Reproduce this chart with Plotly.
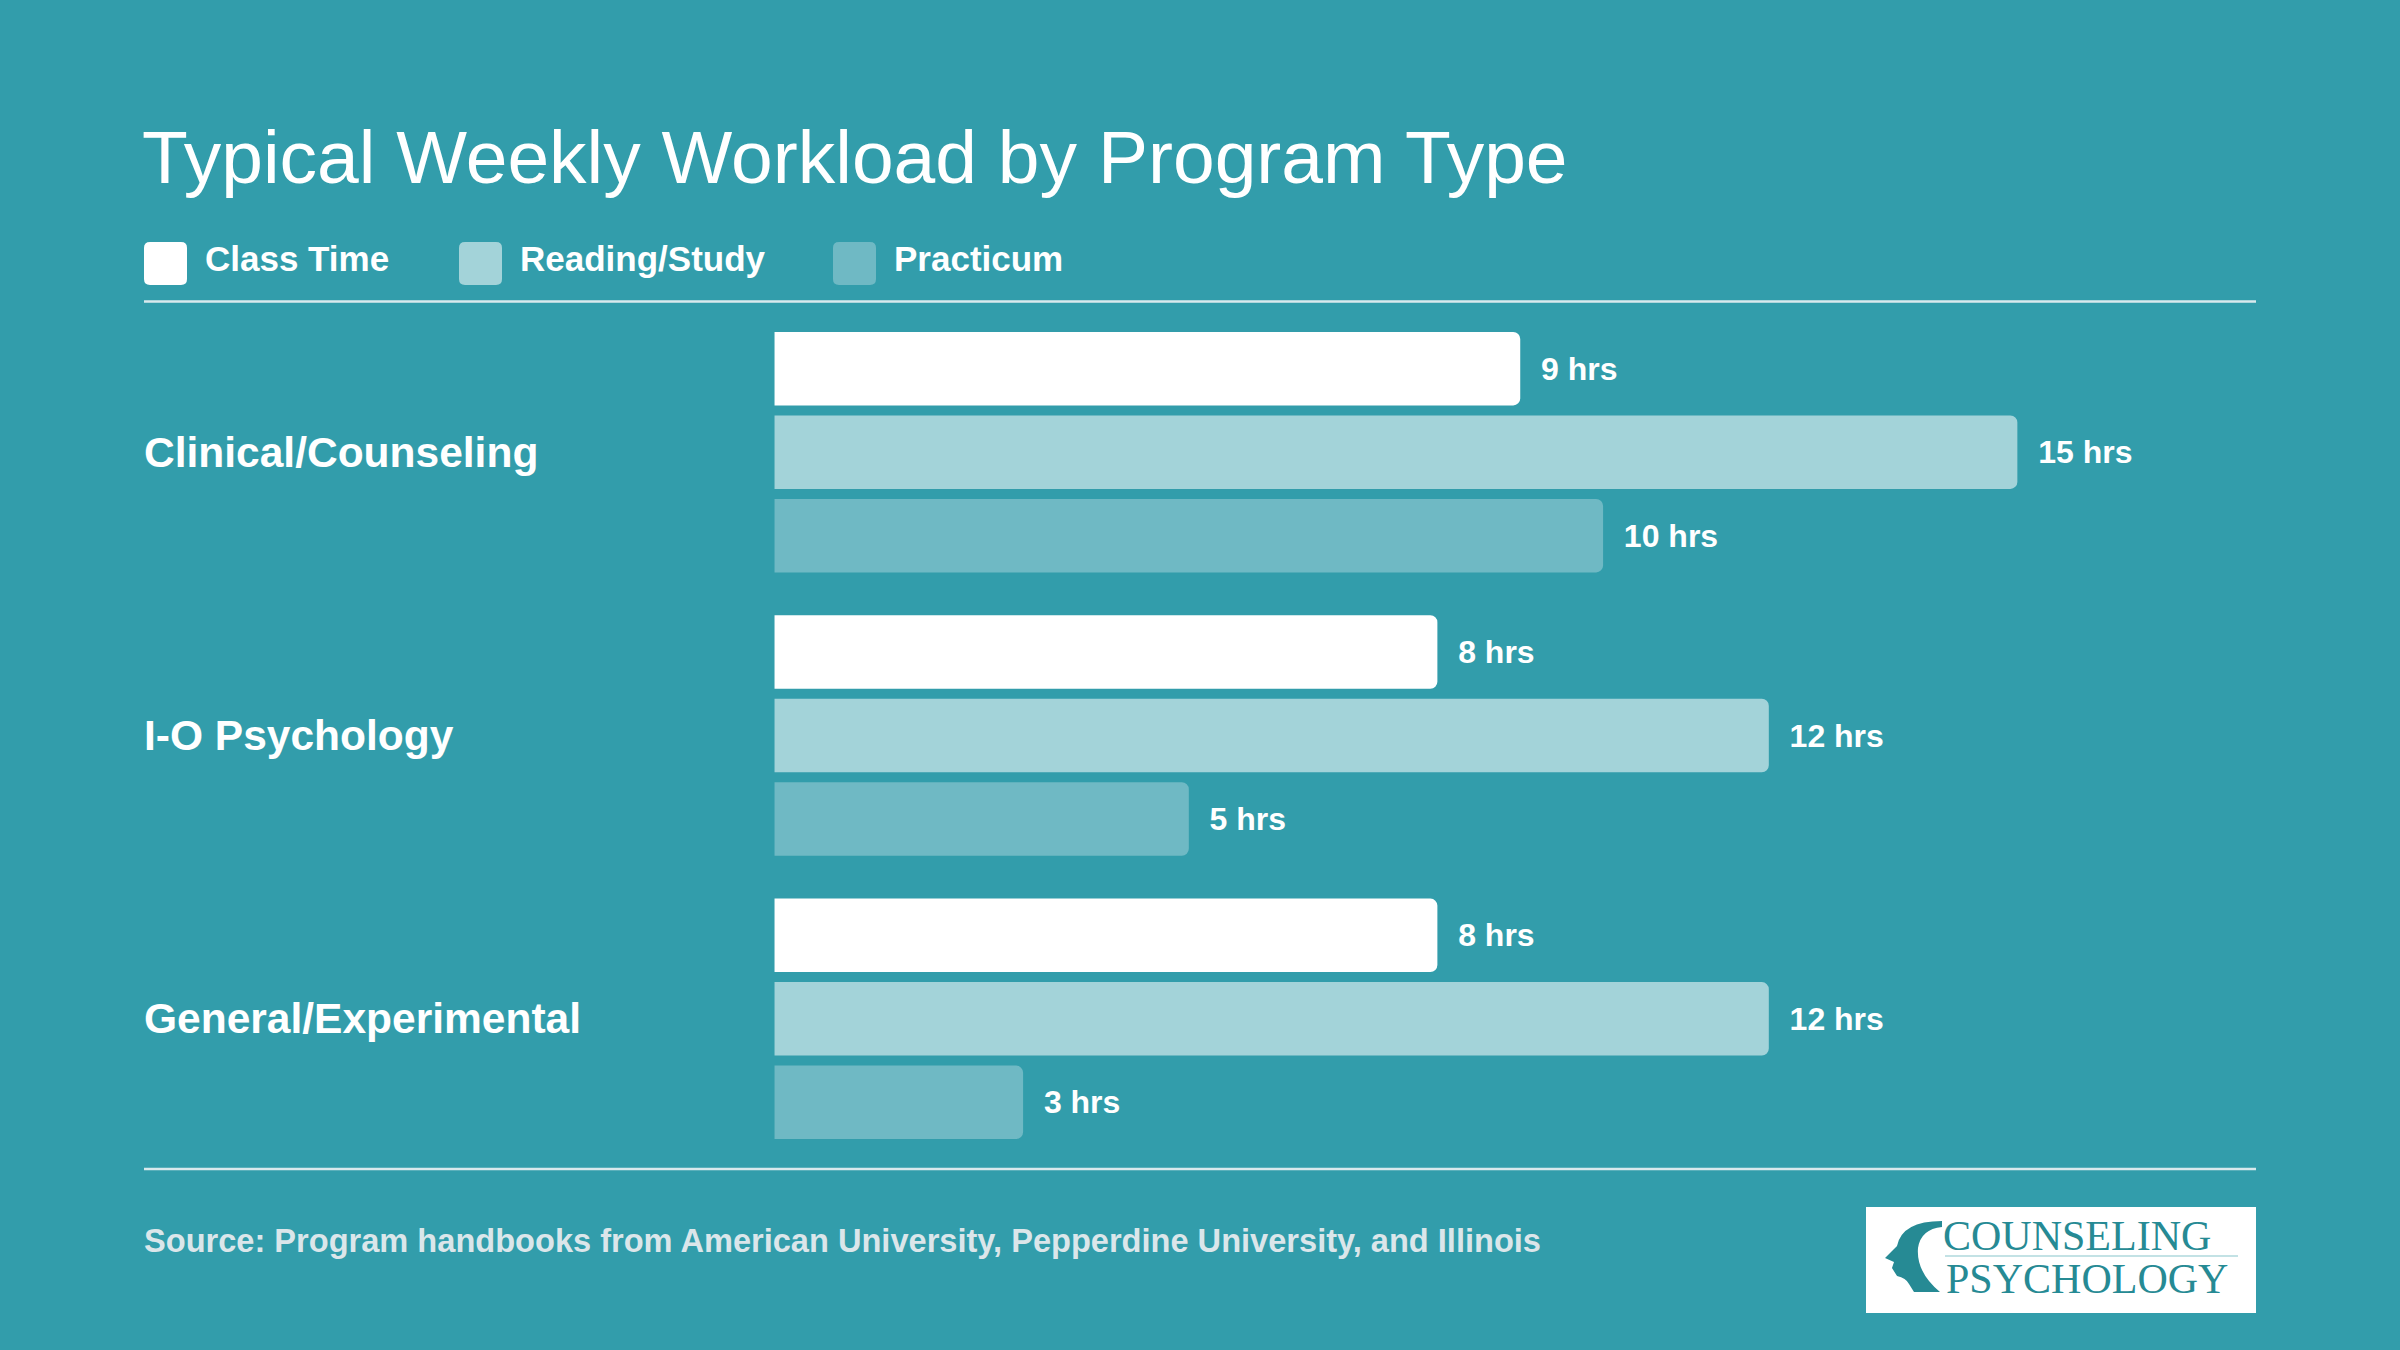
import plotly.graph_objects as go

# ---------------- data ----------------
programs = ["Clinical/Counseling", "I-O Psychology", "General/Experimental"]
series_names = ["Class Time", "Reading/Study", "Practicum"]
class_time = [9, 8, 8]
reading_study = [15, 12, 12]
practicum = [10, 5, 3]
series_values = [class_time, reading_study, practicum]
unit_label = "hrs"

title_text = "Typical Weekly Workload by Program Type"
source_text = "Source: Program handbooks from American University, Pepperdine University, and Illinois"
logo_line1 = "COUNSELING"
logo_line2 = "PSYCHOLOGY"

# ---------------- style ----------------
W, H = 2400, 1350
BG = "#329dab"
colors = ["#ffffff", "#a3d3d9", "#6fb9c4"]
FONT = "Liberation Sans, Arial, Helvetica, sans-serif"
SERIF = "Liberation Serif, Times New Roman, serif"
LOGO_C = "#268a94"


def px(x):
    return x / W


def py(y):
    return 1 - y / H


def path_from(cmds):
    s = ""
    for cmd, coords in cmds:
        s += cmd + " " + " ".join(f"{px(a):.5f},{py(b):.5f}" for a, b in coords) + " "
    return s + "Z"


def rrect_path(x0, y0, x1, y1, r):
    return path_from([
        ("M", [(x0 + r, y0)]),
        ("L", [(x1 - r, y0)]),
        ("Q", [(x1, y0), (x1, y0 + r)]),
        ("L", [(x1, y1 - r)]),
        ("Q", [(x1, y1), (x1 - r, y1)]),
        ("L", [(x0 + r, y1)]),
        ("Q", [(x0, y1), (x0, y1 - r)]),
        ("L", [(x0, y0 + r)]),
        ("Q", [(x0, y0), (x0 + r, y0)]),
    ])


fig = go.Figure()

for name, vals, col in zip(series_names, series_values, colors):
    fig.add_trace(go.Bar(
        name=name,
        y=programs,
        x=vals,
        orientation="h",
        marker=dict(color=col, line=dict(width=0)),
        texttemplate="\u00a0\u00a0%{x} " + unit_label,
        textposition="outside",
        outsidetextfont=dict(family=FONT, size=32, color="#ffffff", weight="bold"),
        constraintext="none",
        cliponaxis=False,
        hoverinfo="skip",
        showlegend=False,
    ))

shapes = []
annotations = []

# title
annotations.append(dict(
    text=title_text, xref="paper", yref="paper", x=px(140), y=py(157),
    xanchor="left", yanchor="middle", showarrow=False,
    font=dict(family=FONT, size=75, color="#ffffff")))

# legend (manual)
legend_x = [144, 459, 833]
for name, col, lx in zip(series_names, colors, legend_x):
    shapes.append(dict(type="path", xref="paper", yref="paper",
                       path=rrect_path(lx, 242, lx + 43, 285, 6),
                       fillcolor=col, line=dict(width=0)))
    annotations.append(dict(
        text=name, xref="paper", yref="paper", x=px(lx + 59), y=py(258),
        xanchor="left", yanchor="middle", showarrow=False,
        font=dict(family=FONT, size=35, color="#ffffff", weight="bold")))

# separator lines
for yy in (301.5, 1169):
    shapes.append(dict(type="line", xref="paper", yref="paper",
                       x0=px(144), x1=px(2256), y0=py(yy), y1=py(yy),
                       line=dict(color="rgba(235,242,244,0.9)", width=2.5)))

# category labels
for p in programs:
    annotations.append(dict(
        text=p, xref="paper", yref="y", x=px(142), y=p,
        xanchor="left", yanchor="middle", showarrow=False,
        font=dict(family=FONT, size=42.5, color="#ffffff", weight="bold")))

# source
annotations.append(dict(
    text=source_text, xref="paper", yref="paper", x=px(142), y=py(1240),
    xanchor="left", yanchor="middle", showarrow=False,
    font=dict(family=FONT, size=32.6, color="#dbe6ea", weight="bold")))

# logo box
shapes.append(dict(type="rect", xref="paper", yref="paper",
                   x0=px(1866), x1=px(2256), y0=py(1207), y1=py(1313),
                   fillcolor="#ffffff", line=dict(width=0)))
shapes.append(dict(type="line", xref="paper", yref="paper",
                   x0=px(1945), x1=px(2238), y0=py(1256), y1=py(1256),
                   line=dict(color="#c3e2e5", width=2)))
head = path_from([
    ("M", [(1942, 1221)]),
    ("Q", [(1902, 1221), (1897, 1246)]),
    ("L", [(1885, 1258)]),
    ("L", [(1894, 1262)]),
    ("L", [(1892, 1268)]),
    ("L", [(1897, 1276)]),
    ("Q", [(1906, 1278), (1909, 1284)]),
    ("L", [(1914, 1292)]),
    ("L", [(1940, 1292)]),
    ("Q", [(1916, 1272), (1918, 1248)]),
    ("Q", [(1921, 1229), (1942, 1227)]),
])
shapes.append(dict(type="path", xref="paper", yref="paper", path=head,
                   fillcolor=LOGO_C, line=dict(width=0)))
annotations.append(dict(
    text=logo_line1, xref="paper", yref="paper", x=px(1941), y=py(1236),
    xanchor="left", yanchor="middle", showarrow=False,
    font=dict(family=SERIF, size=42, color=LOGO_C)))
annotations.append(dict(
    text=logo_line2, xref="paper", yref="paper", x=px(1944), y=py(1279),
    xanchor="left", yanchor="middle", showarrow=False,
    font=dict(family=SERIF, size=42, color=LOGO_C)))

fig.update_layout(
    width=W, height=H,
    paper_bgcolor=BG, plot_bgcolor=BG,
    margin=dict(l=0, r=0, t=0, b=0),
    barmode="group",
    bargap=0.116,
    bargroupgap=0.12,
    barcornerradius=7,
    shapes=shapes,
    annotations=annotations,
    xaxis=dict(domain=[px(144), px(2256)], range=[-7.61, 17.88],
               visible=False, showgrid=False, zeroline=False, fixedrange=True),
    yaxis=dict(domain=[py(1160.5), py(310.5)], type="category",
               categoryorder="array", categoryarray=programs,
               autorange="reversed",
               visible=False, showgrid=False, zeroline=False, fixedrange=True),
    showlegend=False,
    font=dict(family=FONT, color="#ffffff"),
)

fig.write_html("out.html", config={"displayModeBar": False})
